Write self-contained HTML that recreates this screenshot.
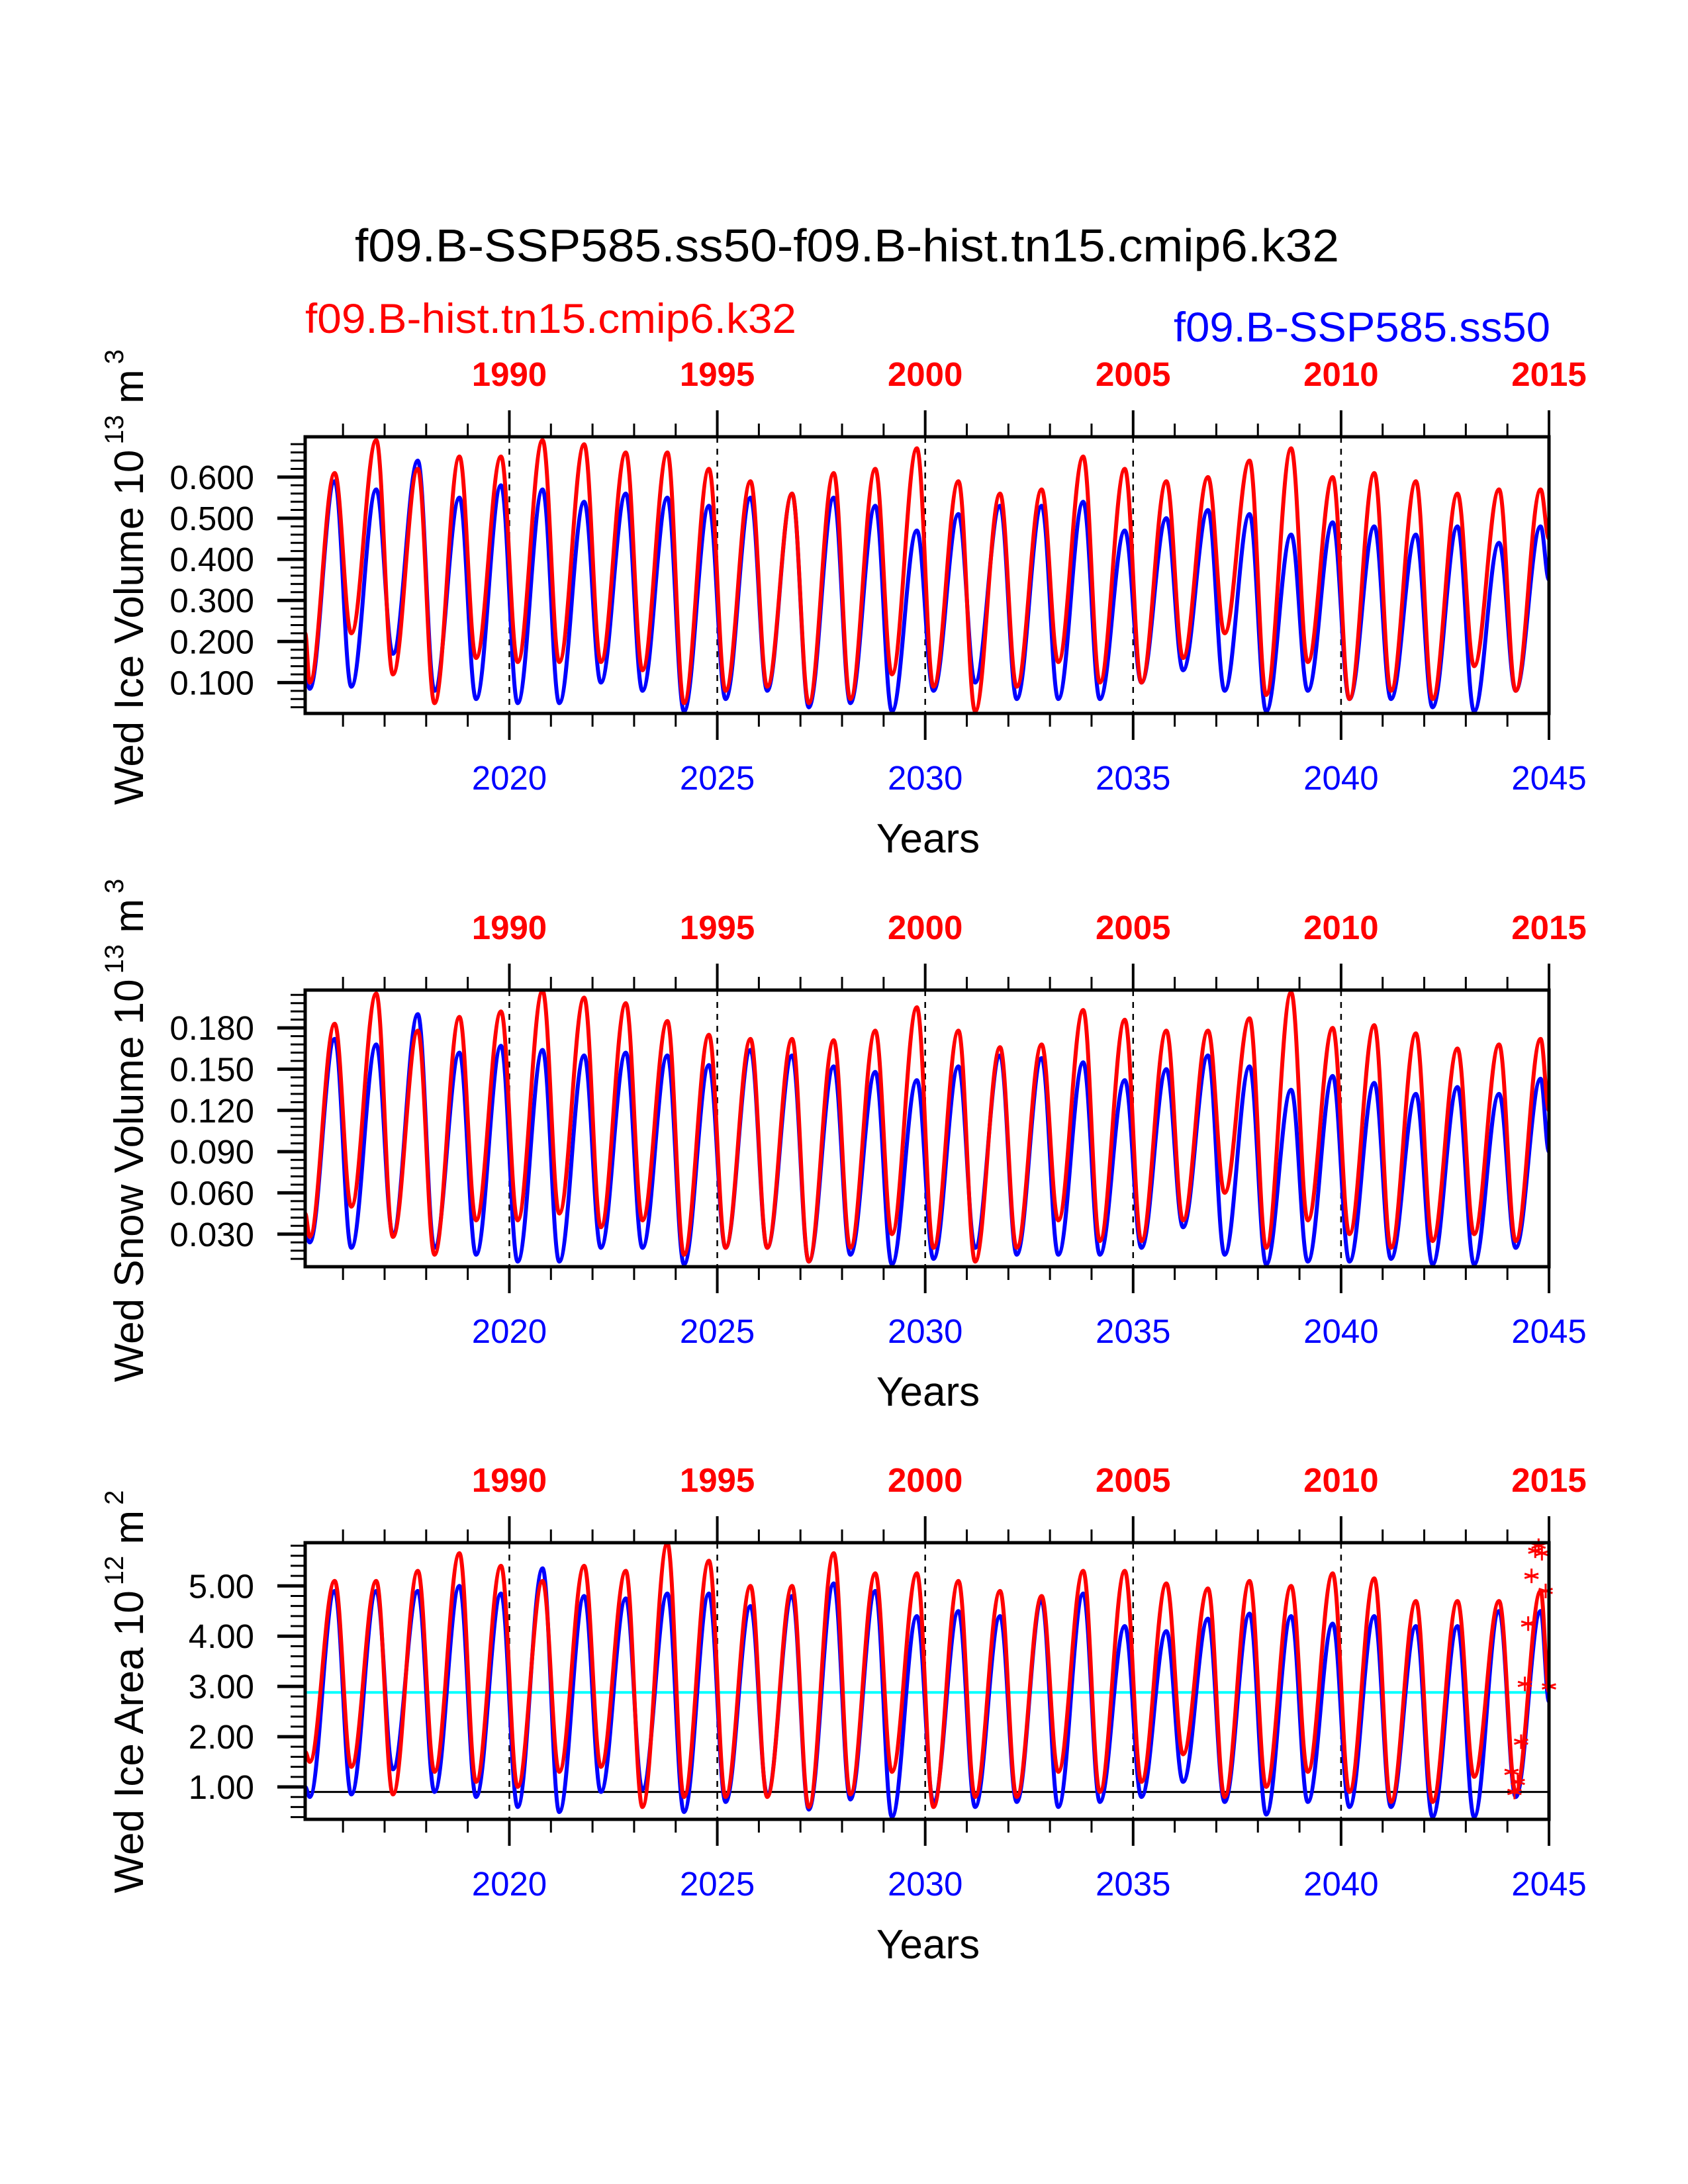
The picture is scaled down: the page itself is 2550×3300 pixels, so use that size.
<!DOCTYPE html>
<html><head><meta charset="utf-8"><style>
html,body{margin:0;padding:0;background:#fff;}
svg{display:block;font-family:"Liberation Sans",sans-serif;}
</style></head><body>
<svg id="chart" width="2550" height="3300" viewBox="0 0 2550 3300" xmlns="http://www.w3.org/2000/svg">
<text x="536" y="395" font-size="70" textLength="1487" lengthAdjust="spacingAndGlyphs">f09.B-SSP585.ss50-f09.B-hist.tn15.cmip6.k32</text>
<text x="461" y="503" font-size="63" fill="#ff0000" textLength="742" lengthAdjust="spacingAndGlyphs">f09.B-hist.tn15.cmip6.k32</text>
<text x="1773" y="516" font-size="63" fill="#0000ff" textLength="569" lengthAdjust="spacingAndGlyphs">f09.B-SSP585.ss50</text>
<g id="plots"></g>
</svg>
<script>
// ---------- data ----------
const years = [2015,2016,2017,2018,2019,2020,2021,2022,2023,2024,2025,2026,2027,2028,2029,2030,2031,2032,2033,2034,2035,2036,2037,2038,2039,2040,2041,2042,2043,2044];
const topYearLabels = ["1990","1995","2000","2005","2010","2015"];
const bottomYearLabels = ["2020","2025","2030","2035","2040","2045"];
const majorYears = [2020,2025,2030,2035,2040,2045];

// Ice volume
const volRedPeak   = [0.61,0.69,0.62,0.65,0.65,0.69,0.68,0.66,0.66,0.62,0.59,0.56,0.61,0.62,0.67,0.59,0.56,0.57,0.65,0.62,0.59,0.60,0.64,0.67,0.60,0.61,0.59,0.56,0.57,0.57];
const volRedTrough = [0.10,0.22,0.12,0.05,0.16,0.15,0.15,0.15,0.13,0.05,0.08,0.09,0.05,0.06,0.12,0.09,0.03,0.09,0.15,0.10,0.10,0.16,0.22,0.07,0.15,0.06,0.08,0.06,0.14,0.08];
const volBluePeak  = [0.59,0.57,0.64,0.55,0.58,0.57,0.54,0.56,0.55,0.53,0.55,0.56,0.55,0.53,0.47,0.51,0.53,0.53,0.54,0.47,0.50,0.52,0.51,0.46,0.49,0.48,0.46,0.48,0.44,0.48];
const volBlueTrough= [0.085,0.09,0.17,0.08,0.06,0.05,0.05,0.10,0.08,0.03,0.06,0.08,0.04,0.05,0.03,0.08,0.10,0.06,0.06,0.06,0.10,0.13,0.08,0.03,0.08,0.06,0.06,0.04,0.03,0.08];
const volStartEnd = {red:[0.22,0.45], blue:[0.12,0.35]};

// Snow volume
const snowRedPeak   = [0.183,0.205,0.178,0.188,0.192,0.207,0.202,0.198,0.185,0.175,0.172,0.172,0.171,0.178,0.195,0.178,0.166,0.168,0.193,0.186,0.178,0.178,0.187,0.206,0.180,0.182,0.176,0.165,0.168,0.172];
const snowRedTrough = [0.028,0.050,0.028,0.015,0.040,0.040,0.045,0.035,0.040,0.015,0.020,0.020,0.010,0.020,0.030,0.020,0.010,0.020,0.040,0.025,0.025,0.040,0.060,0.020,0.040,0.030,0.020,0.025,0.030,0.025];
const snowBluePeak  = [0.172,0.168,0.190,0.162,0.167,0.164,0.160,0.162,0.160,0.153,0.164,0.160,0.152,0.148,0.142,0.152,0.160,0.158,0.155,0.142,0.150,0.160,0.152,0.135,0.145,0.140,0.132,0.137,0.132,0.143];
const snowBlueTrough= [0.024,0.020,0.030,0.020,0.015,0.010,0.010,0.020,0.020,0.008,0.020,0.020,0.010,0.015,0.008,0.012,0.020,0.015,0.015,0.015,0.020,0.035,0.015,0.008,0.010,0.010,0.012,0.008,0.008,0.020];
const snowStartEnd = {red:[0.045,0.12], blue:[0.030,0.09]};

// Ice area
const areaRedPeak   = [5.1,5.1,5.3,5.65,5.4,5.1,5.4,5.3,5.85,5.5,5.0,5.0,5.65,5.25,5.25,5.1,4.9,4.8,5.3,5.3,5.05,4.95,5.1,5.0,5.25,5.15,4.7,4.7,4.7,4.9];
const areaRedTrough = [1.5,1.4,0.85,1.3,1.1,1.0,1.3,1.4,0.6,0.8,0.8,0.8,0.6,0.85,1.3,0.6,0.8,0.8,1.3,0.9,1.1,1.65,0.8,1.0,1.3,0.9,0.7,0.7,1.2,0.9];
const areaBluePeak  = [4.9,4.9,4.9,5.0,4.85,5.35,4.8,4.75,4.85,4.85,4.6,4.8,5.05,4.9,4.4,4.5,4.4,4.7,4.85,4.2,4.1,4.35,4.45,4.4,4.25,4.4,4.2,4.2,4.5,4.5];
const areaBlueTrough= [0.8,0.85,1.35,0.9,0.8,0.6,0.5,0.9,0.95,0.5,0.7,0.85,0.55,0.75,0.4,0.7,0.6,0.7,0.6,0.7,0.8,1.1,0.7,0.45,0.7,0.6,0.6,0.4,0.4,0.8];
const areaStartEnd = {red:[1.7,2.9], blue:[1.0,2.7]};
const starTimes  = [2044.10,2044.17,2044.25,2044.33,2044.42,2044.50,2044.58,2044.67,2044.75,2044.83,2044.92,2045.0];
const starValues = [1.3,0.9,1.1,1.9,3.05,4.25,5.2,5.7,5.8,5.65,4.9,3.0];
const areaRefLines = [2.88, 0.90];

// ---------- layout ----------
const NS = "http://www.w3.org/2000/svg";
const X0 = 461, X1 = 2340, T0 = 2015.09, T1 = 2045;
const xs = t => X0 + (t - T0) / (T1 - T0) * (X1 - X0);
const root = document.getElementById("plots");
function el(tag, attrs, parent) {
  const e = document.createElementNS(NS, tag);
  for (const k in attrs) e.setAttribute(k, attrs[k]);
  (parent || root).appendChild(e);
  return e;
}
function seriesPoints(peaks, troughs, se) {
  const pts = [[T0, se[0]]];
  for (let i = 0; i < years.length; i++) {
    pts.push([years[i] + 0.20, troughs[i]]);
    pts.push([years[i] + 0.80, peaks[i]]);
  }
  pts.push([T1, se[1]]);
  return pts;
}
function smoothPath(px) {
  let d = "M" + px[0][0].toFixed(1) + "," + px[0][1].toFixed(1);
  for (let i = 1; i < px.length; i++) {
    const [x0, y0] = px[i-1], [x1, y1] = px[i];
    const dx = (x1 - x0) * 0.38;
    d += " C" + (x0+dx).toFixed(1) + "," + y0.toFixed(1) + " " + (x1-dx).toFixed(1) + "," + y1.toFixed(1) + " " + x1.toFixed(1) + "," + y1.toFixed(1);
  }
  return d;
}

const panels = [
  {name:"ice-volume", top:660, lo:0.025, hi:0.698, majors:[0.1,0.2,0.3,0.4,0.5,0.6], minorStep:0.02, fmt:3,
   label:["Wed Ice Volume 10","13"," m","3"], labelCY:872,
   red:[volRedPeak,volRedTrough,volStartEnd.red], blue:[volBluePeak,volBlueTrough,volStartEnd.blue]},
  {name:"snow-volume", top:1496, lo:0.0063, hi:0.2075, majors:[0.03,0.06,0.09,0.12,0.15,0.18], minorStep:0.006, fmt:3,
   label:["Wed Snow Volume 10","13"," m","3"], labelCY:1708,
   red:[snowRedPeak,snowRedTrough,snowStartEnd.red], blue:[snowBluePeak,snowBlueTrough,snowStartEnd.blue]},
  {name:"ice-area", top:2331, lo:0.355, hi:5.86, majors:[1,2,3,4,5], minorStep:0.2, fmt:2,
   label:["Wed Ice Area 10","12"," m","2"], labelCY:2556,
   red:[areaRedPeak,areaRedTrough,areaStartEnd.red], blue:[areaBluePeak,areaBlueTrough,areaStartEnd.blue]}
];
const H = 418;

panels.forEach((p, pi) => {
  const g = el("g", {});
  
  
  const B = p.top + H;
  const ys = v => B - (v - p.lo) / (p.hi - p.lo) * H;

  if (p.name === "ice-area") {
    const c = el("line", {x1:X0, x2:X1, y1:ys(areaRefLines[0]), y2:ys(areaRefLines[0]), stroke:"#00ffff", "stroke-width":4}, g);
    
    
    const k = el("line", {x1:X0, x2:X1, y1:ys(areaRefLines[1]), y2:ys(areaRefLines[1]), stroke:"#000", "stroke-width":3}, g);
    
    
  }
  majorYears.slice(0, 5).forEach(yr => {
    const d = el("line", {x1:xs(yr), x2:xs(yr), y1:p.top, y2:B, stroke:"#000", "stroke-width":2.5, "stroke-dasharray":"9,9"}, g);
    
    
  });
  [["blue","#0000ff",p.blue],["red","#ff0000",p.red]].forEach(([nm,col,s]) => {
    const pts = seriesPoints(s[0], s[1], s[2]).map(q => [xs(q[0]), ys(q[1])]);
    const pl = el("path", {d: smoothPath(pts), fill:"none", stroke:col, "stroke-width":6, "stroke-linejoin":"round"}, g);
    
    
  });
  if (p.name === "ice-area") {
    starTimes.forEach((t, i) => {
      const cx = xs(t), cy = ys(starValues[i]), r = 11;
      const sg = el("g", {stroke:"#ff0000", "stroke-width":3}, g);
      
      
      el("line", {x1:cx, x2:cx, y1:cy-r, y2:cy+r}, sg);
      el("line", {x1:cx-r*0.95, x2:cx+r*0.95, y1:cy-r*0.3, y2:cy+r*0.3}, sg);
      el("line", {x1:cx-r*0.95, x2:cx+r*0.95, y1:cy+r*0.3, y2:cy-r*0.3}, sg);
    });
  }
  const fr = el("rect", {x:X0, y:p.top, width:X1-X0, height:H, fill:"none", stroke:"#000", "stroke-width":5}, g);
  
  
  for (let yr = 2016; yr <= 2045; yr++) {
    const major = yr % 5 === 0, L = major ? 40 : 20, x = xs(yr);
    el("line", {x1:x, x2:x, y1:B, y2:B+L, stroke:"#000", "stroke-width":major?4:3}, g);
    el("line", {x1:x, x2:x, y1:p.top, y2:p.top-L, stroke:"#000", "stroke-width":major?4:3}, g);
  }
  majorYears.forEach((yr, i) => {
    const tt = el("text", {x:xs(yr), y:p.top-77, "font-size":51, "font-weight":"bold", fill:"#ff0000", "text-anchor":"middle"}, g);
    tt.textContent = topYearLabels[i];
    
    
    const bt = el("text", {x:xs(yr), y:B+115, "font-size":51, fill:"#0000ff", "text-anchor":"middle"}, g);
    bt.textContent = bottomYearLabels[i];
    
    
  });
  const xt = el("text", {x:1402, y:B+210, "font-size":62, "text-anchor":"middle"}, g);
  xt.textContent = "Years";
  
  
  const n0 = Math.ceil(p.lo / p.minorStep - 1e-6), n1 = Math.floor(p.hi / p.minorStep + 1e-6);
  for (let n = n0; n <= n1; n++) {
    const v = n * p.minorStep;
    if (p.majors.some(m => Math.abs(m - v) < 1e-6)) continue;
    el("line", {x1:X0-22, x2:X0, y1:ys(v), y2:ys(v), stroke:"#000", "stroke-width":3}, g);
  }
  p.majors.forEach(v => {
    el("line", {x1:X0-42, x2:X0, y1:ys(v), y2:ys(v), stroke:"#000", "stroke-width":5}, g);
    const t = el("text", {x:384, y:ys(v)+18, "font-size":51, "text-anchor":"end"}, g);
    t.textContent = v.toFixed(p.fmt);
    
    
  });
  const yt = el("text", {x:0, y:0, "font-size":62, "text-anchor":"middle",
    transform:"translate(216," + p.labelCY + ") rotate(-90)"}, g);
  
  
  const parts = [[p.label[0],0],[p.label[1],1],[p.label[2],0],[p.label[3],1]];
  parts.forEach(([s, sup]) => {
    const ts = el("tspan", sup ? {"font-size":40, dy:-30} : {dy: 0}, yt);
    ts.textContent = sup ? "\u2009" + s : s;
  });
  const tsp = yt.querySelectorAll("tspan");
  tsp[2].setAttribute("dy", 30);
});
</script>
</body></html>
